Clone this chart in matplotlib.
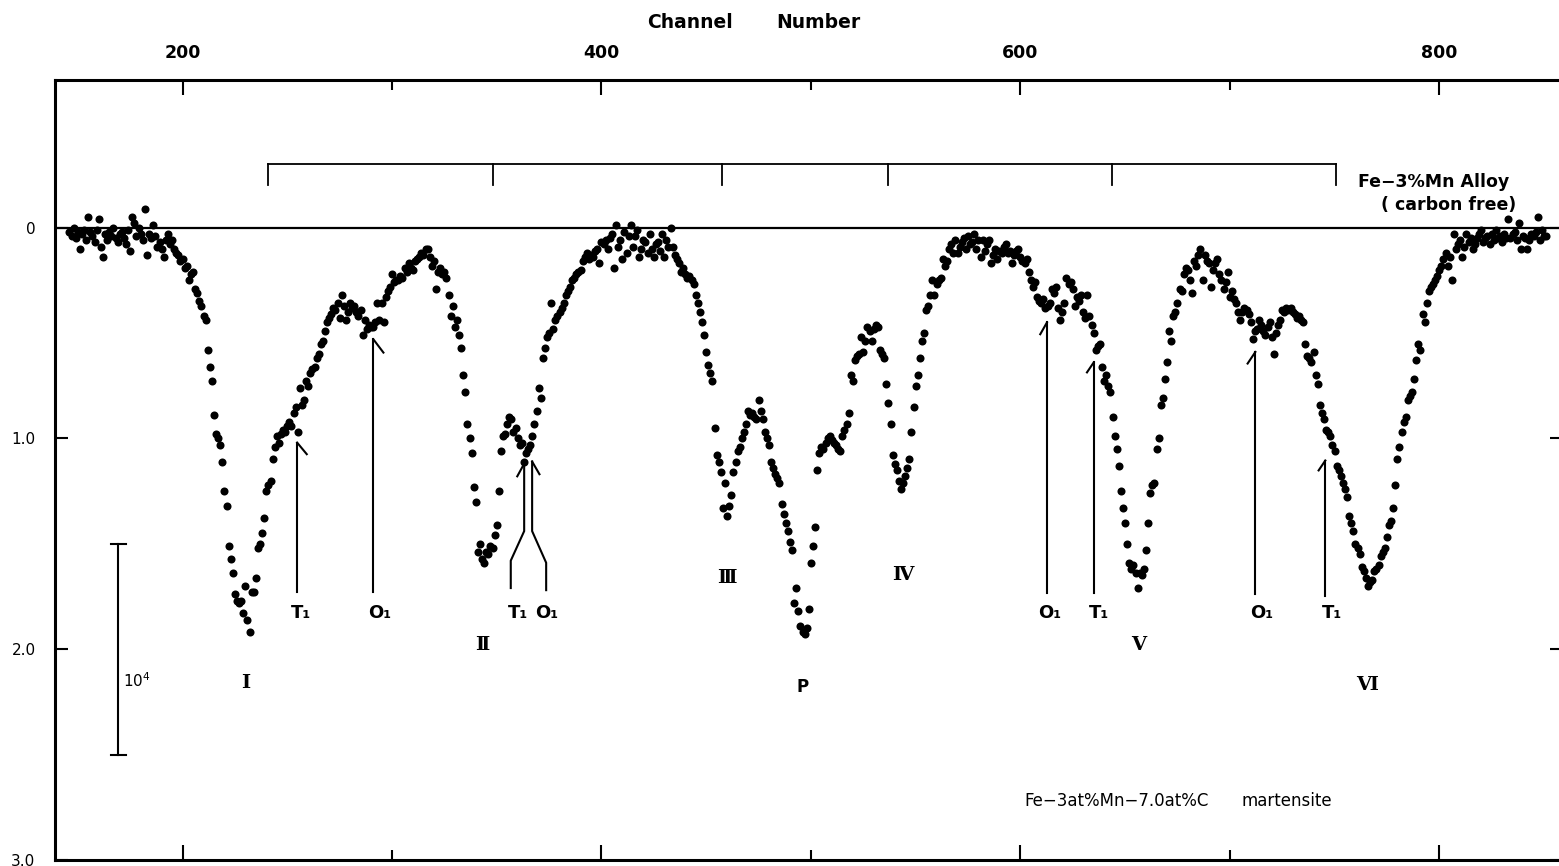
import matplotlib.pyplot as plt
import numpy as np

# Mossbauer spectrum, one value per channel (relative absorption, x10^4 counts)
first_channel = 146
counts = [
    0.02, 0.04, 0.00, 0.05, 0.02, 0.10, 0.03, 0.01, 0.06, -0.05,
    0.02, 0.04, 0.07, 0.01, -0.04, 0.09, 0.14, 0.03, 0.06, 0.02,
    0.04, 0.00, 0.05, 0.07, 0.03, 0.02, 0.05, 0.08, 0.01, 0.11,
    -0.05, -0.02, 0.04, 0.00, 0.03, 0.06, -0.09, 0.13, 0.03, 0.05,
    -0.01, 0.04, 0.09, 0.07, 0.10, 0.14, 0.06, 0.03, 0.08, 0.06,
    0.10, 0.12, 0.13, 0.16, 0.15, 0.19, 0.18, 0.25, 0.22, 0.21,
    0.29, 0.31, 0.35, 0.37, 0.42, 0.44, 0.58, 0.66, 0.73, 0.89,
    0.98, 1.00, 1.03, 1.11, 1.25, 1.32, 1.51, 1.57, 1.64, 1.74,
    1.77, 1.78, 1.77, 1.83, 1.70, 1.86, 1.92, 1.73, 1.73, 1.66,
    1.52, 1.50, 1.45, 1.38, 1.25, 1.22, 1.20, 1.10, 1.04, 0.99,
    1.02, 0.98, 0.96, 0.97, 0.94, 0.92, 0.94, 0.88, 0.85, 0.97,
    0.76, 0.84, 0.82, 0.73, 0.75, 0.69, 0.67, 0.66, 0.62, 0.60,
    0.55, 0.54, 0.49, 0.45, 0.43, 0.41, 0.38, 0.39, 0.36, 0.43,
    0.32, 0.37, 0.44, 0.40, 0.36, 0.38, 0.37, 0.40, 0.42, 0.39,
    0.51, 0.44, 0.48, 0.46, 0.47, 0.47, 0.45, 0.36, 0.44, 0.36,
    0.45, 0.33, 0.30, 0.28, 0.22, 0.26, 0.25, 0.25, 0.23, 0.24,
    0.19, 0.21, 0.17, 0.19, 0.20, 0.16, 0.15, 0.14, 0.12, 0.13,
    0.10, 0.10, 0.14, 0.18, 0.16, 0.29, 0.21, 0.19, 0.22, 0.21,
    0.24, 0.32, 0.42, 0.37, 0.47, 0.44, 0.51, 0.57, 0.70, 0.78,
    0.93, 1.00, 1.07, 1.23, 1.30, 1.54, 1.50, 1.57, 1.59, 1.54,
    1.55, 1.51, 1.52, 1.46, 1.41, 1.25, 1.06, 0.99, 0.98, 0.93,
    0.90, 0.91, 0.97, 0.95, 1.00, 1.03, 1.02, 1.11, 1.07, 1.05,
    1.03, 0.99, 0.93, 0.87, 0.76, 0.81, 0.62, 0.57, 0.52, 0.50,
    0.36, 0.48, 0.44, 0.42, 0.40, 0.38, 0.36, 0.32, 0.30, 0.28,
    0.25, 0.24, 0.22, 0.21, 0.20, 0.16, 0.14, 0.12, 0.15, 0.13,
    0.14, 0.11, 0.10, 0.17, 0.07, 0.08, 0.06, 0.10, 0.05, 0.03,
    0.19, -0.01, 0.09, 0.06, 0.15, 0.02, 0.12, 0.04, -0.01, 0.09,
    0.04, 0.01, 0.14, 0.10, 0.06, 0.07, 0.12, 0.03, 0.10, 0.14,
    0.08, 0.07, 0.11, 0.03, 0.14, 0.06, 0.09, 0.00, 0.09, 0.13,
    0.15, 0.17, 0.21, 0.19, 0.22, 0.24, 0.23, 0.25, 0.27, 0.32,
    0.36, 0.40, 0.45, 0.51, 0.59, 0.65, 0.69, 0.73, 0.95, 1.08,
    1.11, 1.16, 1.33, 1.21, 1.37, 1.32, 1.27, 1.16, 1.11, 1.06,
    1.04, 1.00, 0.97, 0.93, 0.87, 0.89, 0.88, 0.90, 0.91, 0.82,
    0.87, 0.91, 0.97, 1.00, 1.03, 1.11, 1.14, 1.17, 1.19, 1.21,
    1.31, 1.36, 1.40, 1.44, 1.49, 1.53, 1.78, 1.71, 1.82, 1.89,
    1.92, 1.93, 1.90, 1.81, 1.59, 1.51, 1.42, 1.15, 1.07, 1.04,
    1.05, 1.02, 1.00, 0.99, 1.01, 1.02, 1.03, 1.05, 1.06, 0.99,
    0.96, 0.93, 0.88, 0.70, 0.73, 0.63, 0.61, 0.60, 0.52, 0.59,
    0.54, 0.47, 0.49, 0.54, 0.48, 0.46, 0.47, 0.58, 0.60, 0.62,
    0.74, 0.83, 0.93, 1.08, 1.12, 1.15, 1.20, 1.24, 1.21, 1.18,
    1.14, 1.10, 0.97, 0.85, 0.75, 0.70, 0.62, 0.54, 0.50, 0.39,
    0.37, 0.32, 0.25, 0.32, 0.27, 0.25, 0.24, 0.15, 0.18, 0.16,
    0.10, 0.08, 0.12, 0.06, 0.12, 0.09, 0.07, 0.05, 0.10, 0.04,
    0.08, 0.07, 0.03, 0.10, 0.06, 0.14, 0.06, 0.11, 0.08, 0.06,
    0.17, 0.13, 0.10, 0.15, 0.11, 0.12, 0.09, 0.08, 0.12, 0.11,
    0.17, 0.13, 0.11, 0.10, 0.14, 0.16, 0.17, 0.15, 0.21, 0.25,
    0.28, 0.26, 0.33, 0.35, 0.36, 0.34, 0.38, 0.37, 0.36, 0.29,
    0.31, 0.28, 0.38, 0.44, 0.40, 0.36, 0.24, 0.27, 0.26, 0.29,
    0.37, 0.33, 0.35, 0.32, 0.40, 0.43, 0.32, 0.42, 0.46, 0.50,
    0.58, 0.56, 0.55, 0.66, 0.73, 0.70, 0.75, 0.78, 0.90, 0.99,
    1.05, 1.13, 1.25, 1.33, 1.40, 1.50, 1.59, 1.62, 1.60, 1.64,
    1.71, 1.64, 1.65, 1.62, 1.53, 1.40, 1.26, 1.22, 1.21, 1.05,
    1.00, 0.84, 0.81, 0.72, 0.64, 0.49, 0.54, 0.42, 0.40, 0.36,
    0.29, 0.30, 0.22, 0.19, 0.20, 0.25, 0.31, 0.16, 0.18, 0.13,
    0.10, 0.25, 0.13, 0.16, 0.17, 0.28, 0.20, 0.17, 0.15, 0.22,
    0.25, 0.29, 0.26, 0.21, 0.33, 0.30, 0.34, 0.36, 0.40, 0.44,
    0.40, 0.38, 0.39, 0.41, 0.45, 0.53, 0.49, 0.48, 0.44, 0.46,
    0.49, 0.51, 0.47, 0.45, 0.52, 0.60, 0.50, 0.46, 0.44, 0.39,
    0.40, 0.38, 0.39, 0.38, 0.40, 0.41, 0.43, 0.42, 0.44, 0.45,
    0.55, 0.61, 0.62, 0.64, 0.59, 0.70, 0.74, 0.84, 0.88, 0.91,
    0.96, 0.97, 0.99, 1.03, 1.06, 1.13, 1.15, 1.18, 1.21, 1.24,
    1.28, 1.37, 1.40, 1.44, 1.50, 1.52, 1.55, 1.61, 1.63, 1.66,
    1.70, 1.68, 1.67, 1.63, 1.62, 1.60, 1.56, 1.54, 1.52, 1.47,
    1.41, 1.39, 1.33, 1.22, 1.10, 1.04, 0.97, 0.92, 0.90, 0.82,
    0.80, 0.78, 0.72, 0.63, 0.55, 0.58, 0.41, 0.45, 0.36, 0.30,
    0.28, 0.27, 0.25, 0.23, 0.20, 0.18, 0.15, 0.12, 0.18, 0.14,
    0.25, 0.03, 0.10, 0.08, 0.06, 0.14, 0.09, 0.03, 0.07, 0.05,
    0.10, 0.08, 0.05, 0.03, 0.01, 0.07, 0.05, 0.04, 0.08, 0.03,
    0.06, 0.01, 0.05, 0.04, 0.07, 0.03, 0.05, -0.04, 0.05, 0.03,
    0.02, 0.06, -0.02, 0.10, 0.04, 0.05, 0.10, 0.06, 0.03, 0.04,
    0.02, -0.05, 0.06, 0.01, 0.04, 0.04,
]
channel = np.arange(first_channel, first_channel + len(counts))

# Fe-3%Mn alloy (carbon free) line positions
alloy_lines = [240.9, 348.3, 457.6, 536.9, 643.9, 750.8]

# peak labels
peak_names = ['Ⅰ', 'Ⅱ', 'Ⅲ', 'P', 'Ⅳ', 'Ⅴ', 'Ⅵ']
peak_x = [230.0, 343.2, 459.9, 496.0, 544.0, 656.3, 765.5]
peak_y = [2.16, 1.98, 1.66, 2.18, 1.65, 1.98, 2.17]

# T1 / O1 site labels
site_names = ['T₁', 'O₁', 'T₁', 'O₁', 'O₁', 'T₁', 'O₁', 'T₁']
site_x = [256.4, 294.3, 360.0, 374.0, 614.0, 637.6, 715.0, 748.8]
site_y = [1.83, 1.83, 1.83, 1.83, 1.83, 1.83, 1.83, 1.83]

# single arrows: x, tail, tip, barb dx, barb dy
arrows = [
    (254.7, 1.73, 1.02, 4.6, 0.055),
    (291.1, 1.73, 0.53, 4.8, 0.063),
    (612.7, 1.735, 0.45, -3.2, 0.056),
    (635.0, 1.735, 0.64, -3.2, 0.047),
    (712.2, 1.74, 0.59, -3.7, 0.055),
    (745.6, 1.75, 1.105, -3.2, 0.047),
]

fig = plt.figure(figsize=(15.59, 8.66), dpi=100)
ax = fig.add_axes([55 / 1559, 6 / 866, 1507 / 1559, 780 / 866])

ax.plot(channel, counts, 'o', color='black', ms=5.8, mec='none', zorder=3)
ax.axhline(0, color='black', lw=1.6)

# stick diagram of the carbon free alloy
ax.plot([alloy_lines[0], alloy_lines[-1]], [-0.30, -0.30], color='black', lw=1.3)
for xs in alloy_lines:
    ax.plot([xs, xs], [-0.30, -0.20], color='black', lw=1.3)
ax.text(761.0, -0.215, 'Fe−3%Mn Alloy', fontsize=12.5, fontweight='bold',
        ha='left', va='center')
ax.text(804.5, -0.105, '( carbon free)', fontsize=12.5, fontweight='bold',
        ha='center', va='center')

# arrows
for xa, y0, y1, bdx, bdy in arrows:
    ax.plot([xa, xa], [y0, y1], color='black', lw=1.5)
    ax.plot([xa, xa + bdx], [y1, y1 + bdy], color='black', lw=1.5)

# split arrow for peak II
ax.plot([356.7, 356.7, 363.1, 363.1], [1.71, 1.58, 1.44, 1.12], color='black', lw=1.5)
ax.plot([363.1, 359.8], [1.12, 1.18], color='black', lw=1.5)
ax.plot([373.6, 373.6, 366.9, 366.9], [1.72, 1.59, 1.44, 1.11], color='black', lw=1.5)
ax.plot([366.9, 370.4], [1.11, 1.17], color='black', lw=1.5)

for name, xs, ys in zip(site_names, site_x, site_y):
    ax.text(xs, ys, name, fontsize=13, fontweight='bold', ha='center', va='center')
for name, xs, ys in zip(peak_names, peak_x, peak_y):
    if name == 'P':
        ax.text(xs, ys, name, fontsize=12, fontweight='bold', ha='center', va='center')
    else:
        ax.text(xs, ys, name, fontsize=14, family='DejaVu Serif', fontweight='bold',
                ha='center', va='center')

# scale bar (10^4 counts)
ax.plot([169.2, 169.2], [1.50, 2.50], color='black', lw=1.5)
ax.plot([165.6, 172.8], [1.50, 1.50], color='black', lw=1.5)
ax.plot([165.6, 172.8], [2.50, 2.50], color='black', lw=1.5)
ax.text(171.5, 2.15, '10$^4$', fontsize=11, ha='left', va='center')

ax.text(646, 2.72, 'Fe−3at%Mn−7.0at%C', fontsize=12, ha='center', va='center')
ax.text(727, 2.72, 'martensite', fontsize=12, ha='center', va='center')

ax.set_xlim(139.1, 858.6)
ax.set_ylim(3.0, -0.70)

ax.set_xticks([200, 400, 600, 800])
ax.set_xticklabels(['200', '400', '600', '800'], fontsize=12.5, fontweight='bold')
ax.set_xticks([300, 500, 700], minor=True)
ax.tick_params(axis='x', which='both', direction='in', top=True, bottom=True,
               labeltop=True, labelbottom=False, width=1.5)
ax.tick_params(axis='x', which='major', length=11, pad=13)
ax.tick_params(axis='x', which='minor', length=7)

ax.set_yticks([0, 1, 2, 3])
ax.set_yticklabels(['0', '1.0', '2.0', '3.0'], fontsize=11)
ax.tick_params(axis='y', direction='in', left=True, right=True, length=9,
               width=1.5, pad=14)

for side in ['top', 'bottom', 'left']:
    ax.spines[side].set_linewidth(2.2)
ax.spines['right'].set_visible(False)

fig.text(690 / 1559, 1 - 23 / 866, 'Channel', fontsize=13.5,
         fontweight='bold', ha='center', va='center')
fig.text(818 / 1559, 1 - 23 / 866, 'Number', fontsize=13.5,
         fontweight='bold', ha='center', va='center')

fig.savefig('out.png', dpi=100)
